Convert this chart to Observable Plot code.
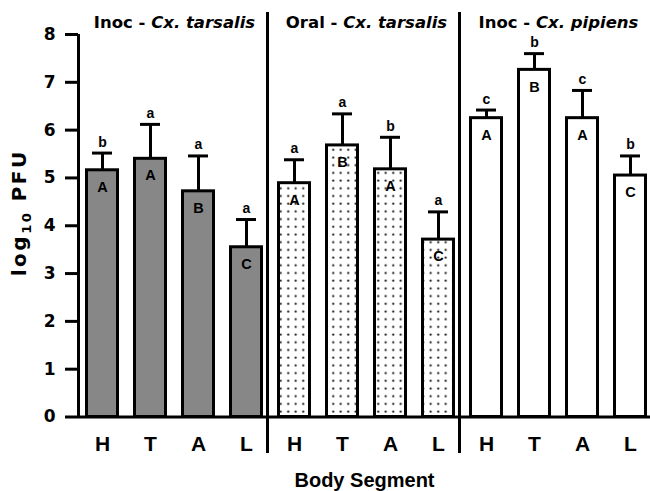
<!DOCTYPE html>
<html>
<head>
<meta charset="utf-8">
<script src="https://cdn.jsdelivr.net/npm/d3@7"></script>
<script src="https://cdn.jsdelivr.net/npm/@observablehq/plot@0.6"></script>
<style>
  html, body { margin: 0; padding: 0; background: #fff; }
</style>
</head>
<body>
<div id="chart"></div>
<script>
// ---- data ----
const groups = ["Inoc - Cx. tarsalis", "Oral - Cx. tarsalis", "Inoc - Cx. pipiens"];
const segments = ["H", "T", "A", "L"];
const means = [
  [5.16, 5.40, 4.72, 3.55],
  [4.89, 5.68, 5.18, 3.71],
  [6.25, 7.26, 6.25, 5.05]
];
const sds = [
  [0.36, 0.72, 0.74, 0.58],
  [0.49, 0.66, 0.67, 0.58],
  [0.17, 0.34, 0.58, 0.41]
];
const upperLetters = [
  ["A", "A", "B", "C"],
  ["A", "B", "A", "C"],
  ["A", "B", "A", "C"]
];
const lowerLetters = [
  ["b", "a", "a", "a"],
  ["a", "a", "b", "a"],
  ["c", "b", "c", "b"]
];
const yTicks = [0, 1, 2, 3, 4, 5, 6, 7, 8];
const yLabel = "log10 PFU";
const xLabel = "Body Segment";

// ---- table ----
const rows = [];
groups.forEach((g, gi) => segments.forEach((s, si) => rows.push({
  key: gi + s, group: gi, seg: s,
  mean: means[gi][si], top: means[gi][si] + sds[gi][si],
  upper: upperLetters[gi][si], lower: lowerLetters[gi][si]
})));
const keys = rows.map(d => d.key);
const titleRows = groups.map((g, gi) => ({key: gi + "T", title: g}));
const dividerKeys = ["0L", "1L"];

const boldSans = "'Liberation Sans', Arial, sans-serif";
const dejavu = "'DejaVu Sans', sans-serif";

const defs = () => {
  const d = d3.create("svg:defs");
  const p = d.append("pattern").attr("id", "dots")
    .attr("patternUnits", "userSpaceOnUse")
    .attr("width", 7.5).attr("height", 7.7);
  p.append("rect").attr("width", 7.5).attr("height", 7.7).attr("fill", "white");
  p.append("circle").attr("cx", 3.2).attr("cy", 3.5).attr("r", 1.1).attr("fill", "#111");
  return d.node();
};

const barOpts = {x: "key", y: "mean", stroke: "black", strokeWidth: 3, insetLeft: 1.5, insetRight: 1.5};

const svg = Plot.plot({
  width: 650,
  height: 491,
  marginLeft: 78,
  marginRight: 0,
  marginTop: 34,
  marginBottom: 74.5,
  style: {background: "white", color: "black", fontFamily: boldSans, overflow: "visible"},
  x: {domain: keys, range: [78, 654], paddingInner: 0.29, paddingOuter: 0.145, label: null},
  y: {domain: [0, 8], label: null},
  marks: [
    defs,
    Plot.barY(rows.filter(d => d.group === 0), {...barOpts, fill: "#878787"}),
    Plot.barY(rows.filter(d => d.group === 1), {...barOpts, fill: "url(#dots)"}),
    Plot.barY(rows.filter(d => d.group === 2), {...barOpts, fill: "white"}),
    Plot.ruleX(rows, {x: "key", y1: "mean", y2: "top", strokeWidth: 3}),
    Plot.tickY(rows, {x: "key", y: "top", strokeWidth: 3, insetLeft: 7, insetRight: 7}),
    Plot.text(rows, {x: "key", y: "top", text: "lower", dy: -11, fontSize: 14, fontWeight: "bold", fontFamily: boldSans}),
    Plot.text(rows, {x: "key", y: "mean", text: "upper", dy: 17, fontSize: 14.5, fontWeight: "bold", fontFamily: boldSans}),
    Plot.ruleY([0], {strokeWidth: 3}),
    Plot.ruleX([keys[0]], {x: d => d, y1: 0, y2: 8, dx: -24, strokeWidth: 3}),
    Plot.ruleX(dividerKeys, {x: d => d, dx: 21, strokeWidth: 3, insetTop: -22, insetBottom: -36.5}),
    Plot.axisY({ticks: yTicks, tickSize: 13, tickPadding: 10, strokeWidth: 3, fontSize: 17, fontWeight: "bold", fontFamily: dejavu, label: null}),
    Plot.axisX({tickSize: 0, tickPadding: 19, tickFormat: k => k.slice(1), fontSize: 21, fontWeight: "bold", fontFamily: boldSans, label: null}),
    Plot.text(titleRows, {x: "key", text: "title", frameAnchor: "top", lineAnchor: "middle", dx: 24, dy: -12, fontSize: 16.5, fontWeight: "bold", fontFamily: dejavu}),
    Plot.text([yLabel], {text: d => d, frameAnchor: "left", textAnchor: "middle", lineAnchor: "middle", rotate: -90, dx: -59, dy: -13, fontSize: 20, fontWeight: "bold", fontFamily: dejavu}),
    Plot.text([xLabel], {text: d => d, frameAnchor: "bottom", lineAnchor: "middle", dy: 64, fontSize: 20, fontWeight: "bold", fontFamily: boldSans})
  ]
});

// rich text: italic species names and subscript
svg.querySelectorAll("text").forEach(t => {
  const s = t.textContent;
  if (groups.includes(s)) {
    const [a, b] = s.split(" - ");
    t.textContent = "";
    t.style.whiteSpace = "pre";
    const t1 = document.createElementNS("http://www.w3.org/2000/svg", "tspan");
    t1.textContent = a + " - ";
    const t2 = document.createElementNS("http://www.w3.org/2000/svg", "tspan");
    t2.textContent = b;
    t2.setAttribute("font-style", "italic");
    t.append(t1, t2);
  } else if (s === yLabel) {
    t.textContent = "";
    t.style.whiteSpace = "pre";
    t.setAttribute("letter-spacing", "2.5");
    const ns = "http://www.w3.org/2000/svg";
    const a = document.createElementNS(ns, "tspan"); a.textContent = "log";
    const b = document.createElementNS(ns, "tspan"); b.textContent = "10";
    b.setAttribute("font-size", "13"); b.setAttribute("dy", "5");
    const c = document.createElementNS(ns, "tspan"); c.textContent = " PFU";
    c.setAttribute("dy", "-5");
    t.append(a, b, c);
  }
});

document.getElementById("chart").append(svg);
</script>
</body>
</html>
